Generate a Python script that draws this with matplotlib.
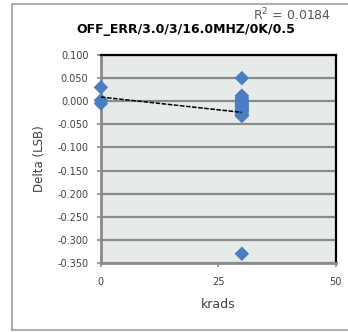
import matplotlib
matplotlib.use("Agg")
import matplotlib.pyplot as plt
import numpy as np
from matplotlib.lines import Line2D

# Data
x0_vals = [0.03, -0.005, 0.002]
x30_vals = [0.05, 0.012, 0.008, 0.005, 0.002, 0.0, -0.003, -0.005, -0.008, -0.01,
            -0.012, -0.015, -0.018, -0.02, -0.022, -0.025, -0.028, -0.03, -0.032, -0.33]
krads = [0] * len(x0_vals) + [30] * len(x30_vals)
delta = x0_vals + x30_vals
title = "OFF_ERR/3.0/3/16.0MHZ/0K/0.5"
r2_text = "R$^2$ = 0.0184"
yticks = [0.100, 0.050, 0.000, -0.050, -0.100, -0.150, -0.200, -0.250, -0.300, -0.350]
xticks = [0, 25, 50]

fig = plt.figure(figsize=(3.48, 3.32), dpi=100)
fig.patch.set_facecolor("white")

ax = fig.add_axes([0.290, 0.2078, 0.675, 0.6265])
ax.set_facecolor("#e6ebe9")

ax.set_xlim(0, 50)
ax.set_ylim(-0.350, 0.100)
ax.set_yticks(yticks)
ax.set_yticklabels([f"{v:.3f}" for v in yticks])
ax.set_xticks(xticks)
ax.set_xticklabels([str(v) for v in xticks])

ax.grid(axis="y", color="#8a8a8a", linewidth=1.6, zorder=0)
ax.set_axisbelow(True)

for s in ["left", "bottom"]:
    ax.spines[s].set_color("#8a8a8a")
    ax.spines[s].set_linewidth(2.0)
for s in ["top", "right"]:
    ax.spines[s].set_color("black")
    ax.spines[s].set_linewidth(1.6)

ax.tick_params(axis="both", direction="out", length=3, width=1.2, color="#8a8a8a",
               labelsize=7, labelcolor="#404040")
ax.tick_params(axis="y", pad=6)
ax.tick_params(axis="x", pad=7)

ax.scatter(krads, delta, marker="D", s=55, color="#4a7ec4", zorder=3, clip_on=False,
           edgecolors="none")

coef = np.polyfit(krads, delta, 1)
xs = np.array([0, 30])
ax.plot(xs, np.polyval(coef, xs), color="black", linewidth=1.1, linestyle=(0, (3, 1)), zorder=4)

ax.set_ylabel("Delta (LSB)", fontsize=8.5, color="#404040", labelpad=8)
ax.set_xlabel("krads", fontsize=9, color="#404040", labelpad=8)

fig.text(0.535, 0.910, title, ha="center", va="center", fontsize=9, fontweight="bold",
         color="black")
fig.text(0.84, 0.955, r2_text, ha="center", va="center", fontsize=9, color="#555555")

# outer frame
fig.add_artist(Line2D([12/348, 12/348], [2/332, 1-4/332], transform=fig.transFigure,
                      color="#a0a0a0", linewidth=1.2))
fig.add_artist(Line2D([12/348, 1.0], [1-4/332, 1-4/332], transform=fig.transFigure,
                      color="#a0a0a0", linewidth=1.2))
fig.add_artist(Line2D([12/348, 1.0], [2/332, 2/332], transform=fig.transFigure,
                      color="#a0a0a0", linewidth=1.2))

fig.savefig("out.png", dpi=100)
